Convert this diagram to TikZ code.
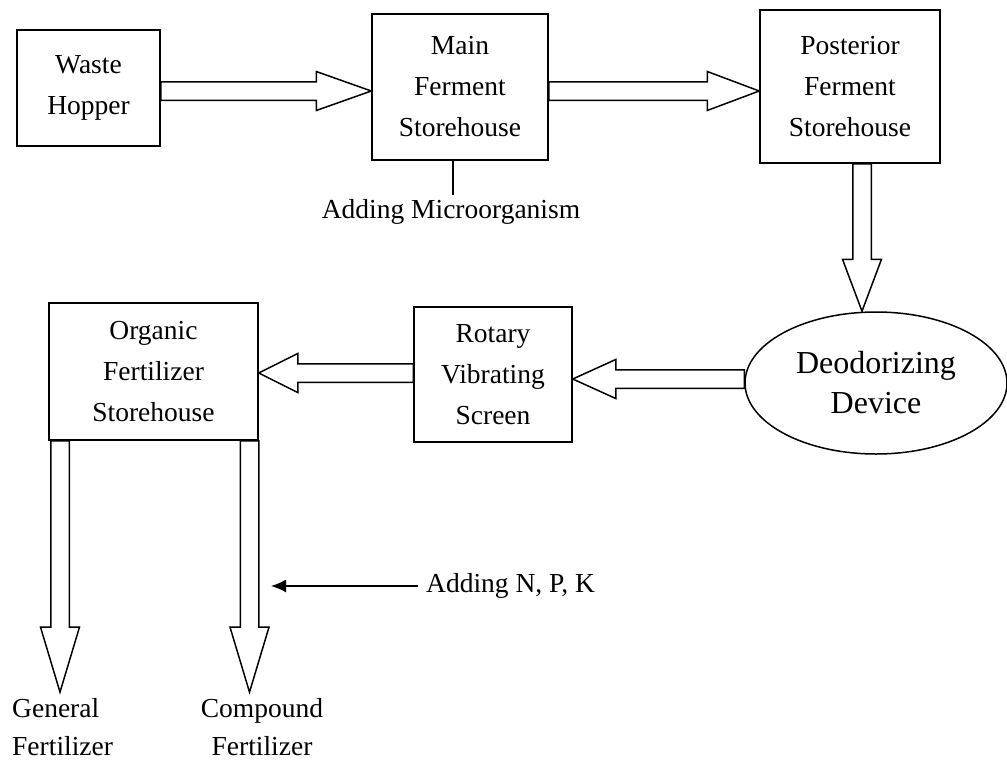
\documentclass[tikz,border=0pt]{standalone}
\usepackage{fontspec}
\setmainfont{Liberation Serif}
\usetikzlibrary{calc,shapes.geometric,arrows.meta}
\tikzset{every picture/.style={x=1pt,y=-1pt}}
\tikzset{box/.style={draw,line width=1.5pt,align=center,inner sep=0pt,font=\fontsize{27.5}{41}\selectfont}}
\tikzset{oval/.style={ellipse,draw,line width=1.5pt,align=center,inner sep=0pt,font=\fontsize{32}{40}\selectfont}}
\tikzset{lbl/.style={inner sep=0pt,font=\fontsize{27.5}{38}\selectfont}}
\tikzset{add/.style={line width=1.5pt,-{Latex[length=15pt,width=13pt]}}}
\tikzset{fat/.style={line width=1.5pt,line join=miter,to path={
  ($(\tikztostart)!9.25pt!90:(\tikztotarget)$)
  -- ($($(\tikztotarget)!#1pt!(\tikztostart)$)!9.25pt!-90:(\tikztostart)$)
  -- ($($(\tikztotarget)!#1pt!(\tikztostart)$)!19.5pt!-90:(\tikztostart)$)
  -- (\tikztotarget)
  -- ($($(\tikztotarget)!#1pt!(\tikztostart)$)!19.5pt!90:(\tikztostart)$)
  -- ($($(\tikztotarget)!#1pt!(\tikztostart)$)!9.25pt!90:(\tikztostart)$)
  -- ($(\tikztostart)!9.25pt!-90:(\tikztotarget)$)
  -- cycle}}}

\begin{document}
\begin{tikzpicture}
\useasboundingbox (0,0) rectangle (1007,763);

\node [box,minimum width=143,minimum height=116] (wh) at (88.5,88) {Waste\\Hopper};
\node [box,minimum width=176,minimum height=146] (mf) at (460,87) {Main\\Ferment\\Storehouse};
\node [box,minimum width=180,minimum height=153] (pf) at (850,86.5) {Posterior\\Ferment\\Storehouse};
\node [oval,minimum width=262,minimum height=142] (dd) at (876,383) {Deodorizing\\Device};
\node [box,minimum width=158,minimum height=135] (rv) at (493,374.5) {Rotary\\Vibrating\\Screen};
\node [box,minimum width=209,minimum height=137] (of) at (153.5,371.5) {Organic\\Fertilizer\\Storehouse};

\node [lbl,inner sep=4pt] (am) at (451,211.5) {Adding Microorganism};
\node [lbl,inner sep=6pt,align=left,anchor=west] (gf) at (6,727) {General\\Fertilizer};
\node [lbl,inner sep=6pt,align=center] (cf) at (262,727) {Compound\\Fertilizer};
\node [lbl,inner sep=8pt,anchor=west] (npk) at (418,586) {Adding N, P, K};
\coordinate (nk) at (271,586);

\draw [fat=55] (wh.east |- 0,91) to (mf.west |- 0,91);
\draw [fat=52] (mf.east |- 0,91) to (pf.west |- 0,91);
\draw [fat=52] (pf.south -| 862,0) to (dd.north -| 862,0);
\draw [fat=43] (dd.west |- 0,379) to (rv.east |- 0,379);
\draw [fat=39] (rv.west |- 0,373) to (of.east |- 0,373);
\draw [fat=65] (of.south -| 60,0) to (gf.north -| 60,0);
\draw [fat=65] (of.south -| 249.5,0) to (cf.north -| 249.5,0);

\draw [line width=1.5pt] (mf.south -| 453,0) -- (am.north -| 453,0);
\draw [add] (npk.west) -- (nk);
\end{tikzpicture}
\end{document}
